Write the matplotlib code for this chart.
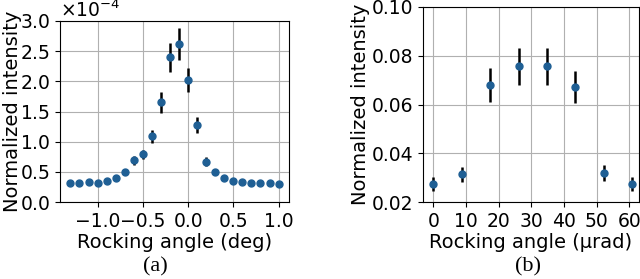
import matplotlib
matplotlib.use("Agg")
import matplotlib.pyplot as plt

# (a) rocking curve in degrees, intensity in units of 1e-4
angle_a = [-1.3, -1.2, -1.1, -1.0, -0.9, -0.8, -0.7, -0.6, -0.5, -0.4, -0.3, -0.2,
           -0.1, 0.0, 0.1, 0.2, 0.3, 0.4, 0.5, 0.6, 0.7, 0.8, 0.9, 1.0]
int_a = [0.31, 0.31, 0.33, 0.32, 0.35, 0.40, 0.50, 0.69, 0.79, 1.09, 1.65, 2.40,
         2.62, 2.02, 1.28, 0.67, 0.50, 0.40, 0.34, 0.33, 0.32, 0.32, 0.31, 0.30]
err_a = [0.03, 0.03, 0.03, 0.03, 0.035, 0.04, 0.05, 0.07, 0.08, 0.11, 0.17, 0.24,
         0.26, 0.20, 0.13, 0.07, 0.05, 0.04, 0.035, 0.03, 0.03, 0.03, 0.03, 0.03]
xticks_a = [-1.0, -0.5, 0.0, 0.5, 1.0]
yticks_a = [0.0, 0.5e-4, 1.0e-4, 1.5e-4, 2.0e-4, 2.5e-4, 3.0e-4]

# (b) rocking curve in microradians
angle_b = [0.0, 8.7, 17.4, 26.1, 34.8, 43.5, 52.2, 60.9]
int_b = [0.0275, 0.0313, 0.0680, 0.0757, 0.0756, 0.0672, 0.0320, 0.0275]
err_b = [0.0028, 0.0032, 0.0068, 0.0075, 0.0075, 0.0067, 0.0032, 0.0028]
xticks_b = [0, 10, 20, 30, 40, 50, 60]

plt.rcParams['font.size'] = 13.5
plt.rcParams['axes.labelsize'] = 14
plt.rcParams['xtick.labelsize'] = 13.5
plt.rcParams['ytick.labelsize'] = 13.5

fig = plt.figure(figsize=(6.4, 2.79), dpi=100)
ax1 = fig.add_axes([60/640, 77/279, 229/640, 181/279])
ax2 = fig.add_axes([423/640, 77/279, 216/640, 195/279])

dot = '#1f5f94'

ax1.errorbar(angle_a, [v*1e-4 for v in int_a], yerr=[e*1e-4 for e in err_a],
             fmt='o', ms=5, color=dot, ecolor='k', elinewidth=1.8)
ax1.set_ylim(0, 3.0e-4)
ax1.set_xticks(xticks_a)
ax1.set_yticks(yticks_a)
ax1.ticklabel_format(axis='y', style='sci', scilimits=(0, 0), useMathText=True)
ax1.set_xlabel('Rocking angle (deg)', labelpad=2)
ax1.set_ylabel('Normalized intensity')
ax1.yaxis.set_label_coords(-0.168, 0.5)
ax1.grid(True)

ax2.errorbar(angle_b, int_b, yerr=err_b,
             fmt='o', ms=5, color=dot, ecolor='k', elinewidth=1.8)
ax2.set_xlim(-3.15, 63.0)
ax2.set_ylim(0.02, 0.10)
ax2.set_xticks(xticks_b)
ax2.set_xlabel('Rocking angle (μrad)', labelpad=2)
ax2.set_ylabel('Normalized intensity')
ax2.yaxis.set_label_coords(-0.245, 0.5)
ax2.grid(True)

fig.text(155/640, 1 - 267/279, '(a)', ha='center', va='center',
         family='Liberation Serif', fontsize=16)
fig.text(528/640, 1 - 267/279, '(b)', ha='center', va='center',
         family='Liberation Serif', fontsize=16)

fig.savefig('out.png', dpi=100)
